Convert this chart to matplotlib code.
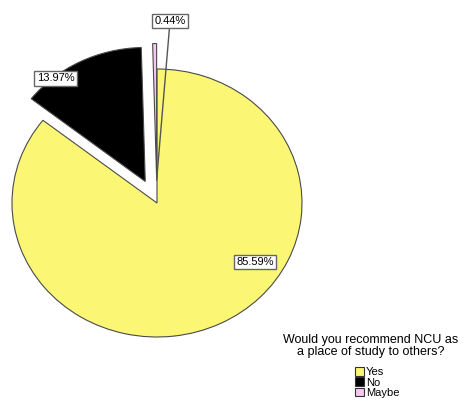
import matplotlib
matplotlib.use("Agg")
import matplotlib.pyplot as plt
import matplotlib.patches as mpatches
import numpy as np

plt.rcParams['font.family'] = ['Liberation Sans', 'DejaVu Sans']

categories = ["Yes", "No", "Maybe"]
values = [85.59, 13.97, 0.44]
labels = ["85.59%", "13.97%", "0.44%"]
colors = ["#FBF775", "#000000", "#F5C8F2"]
explode = [0.0, 0.18, 0.19]
legend_title = "Would you recommend NCU as\na place of study to others?"

W, H = 475, 403
fig = plt.figure(figsize=(W / 100, H / 100), dpi=100)
ax = fig.add_axes([0, 0, 1, 1])

cx, cy, rx, ry = 157, 203, 145, 134
wedges, _ = ax.pie(values, colors=colors, startangle=90, counterclock=False,
                   explode=explode, radius=1.0,
                   wedgeprops=dict(edgecolor="#4a4a4a", linewidth=0.8))
ax.set_aspect('auto')
ax.set_xlim(-cx / rx, (W - cx) / rx)
ax.set_ylim(-(H - cy) / ry, cy / ry)
ax.axis('off')

bbox = dict(boxstyle="square,pad=0.2", fc="white", ec="#666666", lw=1.0)
label_pos = [(0.675, -0.44), (-0.70, 0.93), (0.09, 1.36)]
for i, (w, lab) in enumerate(zip(wedges, labels)):
    if i == 2:
        c = w.center
        tgt = (c[0], c[1] - 0.02)
        ax.annotate(lab, xy=tgt, xytext=label_pos[i], ha="center", va="center",
                    fontsize=8, bbox=bbox,
                    arrowprops=dict(arrowstyle="-", color="#555555", lw=1.0,
                                    shrinkA=0, shrinkB=0))
    else:
        ax.text(label_pos[i][0], label_pos[i][1], lab, ha="center", va="center",
                fontsize=8, bbox=bbox)

fig.text(371 / W, 1 - 346 / H, legend_title, ha="center", va="center",
         fontsize=9, linespacing=0.95, multialignment="center")

handles = [mpatches.Patch(facecolor=c, edgecolor="#333333", linewidth=0.8)
           for c in colors]
leg = fig.legend(handles, categories, loc="upper left",
                 bbox_to_anchor=(355 / W, 1 - 367 / H), frameon=False,
                 fontsize=8, handlelength=0.85,
                 handleheight=0.85, handletextpad=0.15, labelspacing=0.0,
                 borderpad=0.0, borderaxespad=0.0)

fig.savefig("out.png", dpi=100)
